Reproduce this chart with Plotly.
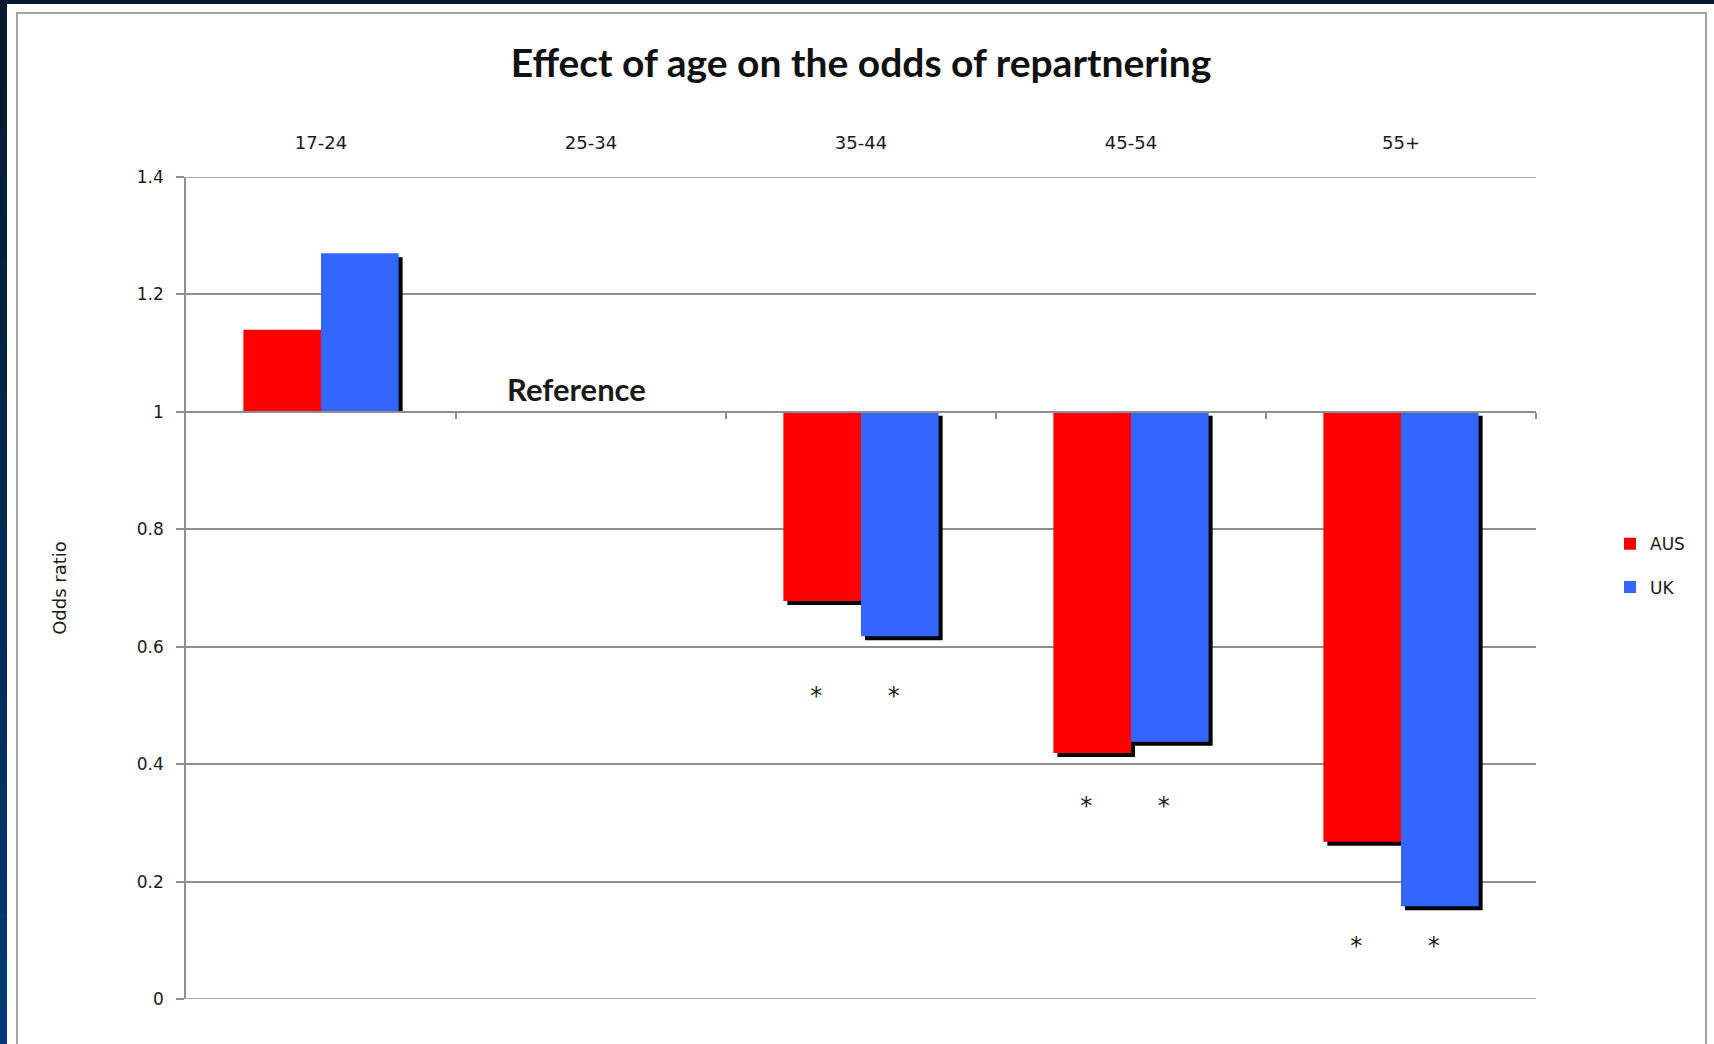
import numpy as np
import plotly.graph_objects as go

# ---- data ----
age_groups = ["17-24", "25-34", "35-44", "45-54", "55+"]
aus_odds = [1.14, None, 0.678, 0.419, 0.268]
uk_odds = [1.27, None, 0.618, 0.438, 0.158]
aus_sig = [False, False, True, True, True]
uk_sig = [False, False, True, True, True]
star_y = [None, None, 0.512, 0.326, 0.087]
y_ticks = [0, 0.2, 0.4, 0.6, 0.8, 1, 1.2, 1.4]
y_tick_text = ["0", "0.2", "0.4", "0.6", "0.8", "1", "1.2", "1.4"]
reference_group = "25-34"
reference_value = 1

W, H = 1714, 1044
ML, MR, MT, MB = 186, 178, 177, 45
PW, PH = W - ML - MR, H - MT - MB

RED = "#ff0000"
BLUE = "#3366ff"
GRID = "#8f8f8f"
TXT = "#1a1a1a"
FONT = "DejaVu Sans"
FS = 18

bw = 0.2875
sx = 4 / (PW / len(age_groups))        # shadow x offset (category units)
sy = 4 / (PH / 1.4)                    # shadow y offset (data units)
star_shift = 6 / (PW / len(age_groups))

xi = np.arange(len(age_groups), dtype=float)


def arr(v):
    return np.array([np.nan if a is None else a for a in v], dtype=float)


fig = go.Figure()

for vals, off in [(arr(aus_odds), -bw), (arr(uk_odds), 0.0)]:
    base = np.where(vals < reference_value, reference_value - sy, reference_value)
    top = vals - sy
    fig.add_trace(go.Bar(
        x=xi, y=top - base, base=base, width=bw, offset=off + sx,
        marker=dict(color="black", line=dict(width=0)),
        showlegend=False, hoverinfo="skip"))

for name, vals, off, col in [("AUS", arr(aus_odds), -bw, RED), ("UK", arr(uk_odds), 0.0, BLUE)]:
    fig.add_trace(go.Bar(
        x=xi, y=vals - reference_value, base=[reference_value] * len(xi),
        width=bw, offset=off, name=name, legendgroup=name,
        marker=dict(color=col, line=dict(width=0))))

# significance stars
for sig, off in [(aus_sig, -bw / 2), (uk_sig, bw / 2)]:
    xs = [i + off - star_shift for i in range(len(age_groups)) if sig[i]]
    ys = [star_y[i] for i in range(len(age_groups)) if sig[i]]
    fig.add_trace(go.Scatter(
        x=xs, y=ys, mode="text", text=["*"] * len(xs),
        textfont=dict(size=24, color=TXT, family=FONT),
        showlegend=False, hoverinfo="skip"))

# secondary x-axis (line at odds = 1 with boundary ticks)
fig.add_trace(go.Scatter(x=[None], y=[None], xaxis="x2", showlegend=False, hoverinfo="skip"))

ref_idx = age_groups.index(reference_group)
fig.add_annotation(x=ref_idx, y=reference_value, text="<b>Reference</b>",
                   showarrow=False, yanchor="bottom", xshift=-15, yshift=2,
                   font=dict(family="Lato", size=31, color=TXT))


def px_x(p):
    return (p - ML) / PW


def px_y(p):
    return (H - MB - p) / PH


# slide frame: white panel, dark strips, gradient left strip
fig.add_shape(type="rect", xref="paper", yref="paper",
              x0=px_x(7), x1=px_x(W + 5), y0=px_y(H + 5), y1=px_y(4),
              fillcolor="white", line=dict(width=0), layer="below")
fig.add_shape(type="rect", xref="paper", yref="paper",
              x0=px_x(-5), x1=px_x(W + 5), y0=px_y(4), y1=px_y(-5),
              fillcolor="#071a2e", line=dict(width=0), layer="below")
n_strip = 24
c0 = np.array([7, 26, 46])
c1 = np.array([0, 58, 117])
for k in range(n_strip):
    t = k / (n_strip - 1)
    c = (c0 * (1 - t) + c1 * t).astype(int)
    y_top = k * H / n_strip
    fig.add_shape(type="rect", xref="paper", yref="paper",
                  x0=px_x(-5), x1=px_x(7), y0=px_y(y_top + H / n_strip + 1), y1=px_y(y_top),
                  fillcolor="rgb(%d,%d,%d)" % tuple(c), line=dict(width=0), layer="below")
fig.add_shape(type="rect", xref="paper", yref="paper",
              x0=px_x(17), x1=px_x(1706), y0=px_y(H + 5), y1=px_y(13),
              fillcolor="rgba(0,0,0,0)", line=dict(width=2, color="#a3a3a3"), layer="below")

# gridlines at the range ends
for yv in (y_ticks[0], y_ticks[-1]):
    fig.add_shape(type="line", xref="paper", yref="y", x0=0, x1=1, y0=yv, y1=yv,
                  line=dict(color=GRID, width=1.5), layer="below")

fig.update_layout(
    width=W, height=H, autosize=False,
    margin=dict(l=ML, r=MR, t=MT, b=MB, pad=0),
    paper_bgcolor="white", plot_bgcolor="white",
    barmode="overlay",
    title=dict(text="<b>Effect of age on the odds of repartnering</b>",
               x=0.5, xref="paper", xanchor="center",
               y=1 - 63 / H, yref="container", yanchor="middle",
               font=dict(family="Lato", size=39, color="#111")),
    font=dict(family=FONT, size=FS, color=TXT),
    xaxis=dict(range=[-0.5, len(age_groups) - 0.5], side="top",
               tickmode="array", tickvals=list(xi), ticktext=age_groups,
               ticks="", showgrid=False, zeroline=False, showline=False,
               ticklabelstandoff=23, tickfont=dict(size=FS, family=FONT, color=TXT)),
    xaxis2=dict(range=[-0.5, len(age_groups) - 0.5], overlaying="x", anchor="free",
                position=reference_value / 1.4, side="bottom",
                tickmode="array", tickvals=list(xi[:-1] + 0.5) + [len(age_groups) - 0.5],
                ticks="outside", ticklen=6, tickcolor=GRID, tickwidth=1.5,
                showticklabels=False, showgrid=False, zeroline=False,
                showline=True, linecolor=GRID, linewidth=1.5),
    yaxis=dict(range=[0, 1.4], tickmode="array", tickvals=y_ticks, ticktext=y_tick_text,
               showgrid=True, gridcolor=GRID, gridwidth=1.5, zeroline=False,
               showline=True, linecolor=GRID, linewidth=1.5,
               ticks="outside", ticklen=8, tickcolor=GRID, tickwidth=1.5,
               ticklabelstandoff=9, tickfont=dict(size=FS - 1, family=FONT, color=TXT),
               title=dict(text="Odds ratio", standoff=66,
                          font=dict(size=FS, family=FONT, color=TXT))),
    legend=dict(x=px_x(1610), xanchor="left", y=0.527, yanchor="middle",
                bgcolor="rgba(0,0,0,0)", tracegroupgap=18,
                font=dict(size=FS - 1, family=FONT, color=TXT),
                itemwidth=30),
    showlegend=True,
)

fig.write_html("out.html", config={"displayModeBar": False},
               post_script="document.body.style.margin='0';")
